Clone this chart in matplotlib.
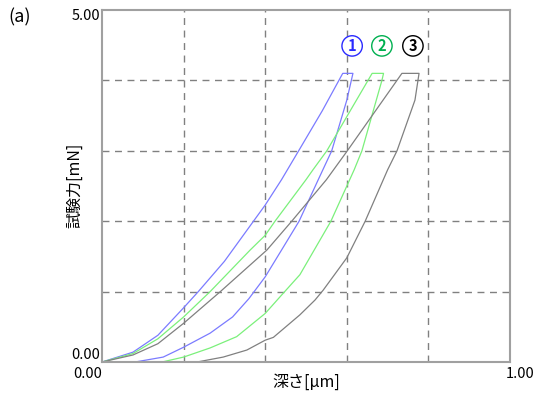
import numpy as np
import matplotlib
matplotlib.use("Agg")
from matplotlib import pyplot as plt

plt.rcParams['font.family'] = ['Noto Sans CJK JP', 'DejaVu Sans']

# 押し込み深さ [μm] と試験力 [mN]（負荷 -> 保持 -> 除荷）
depth1 = [0.0, 0.076, 0.137, 0.2, 0.236, 0.3, 0.32, 0.4, 0.44, 0.485, 0.54, 0.59,
          0.615, 0.60, 0.563, 0.53, 0.483, 0.44, 0.40, 0.36, 0.32, 0.265, 0.2, 0.15, 0.081]
force1 = [0.0, 0.14, 0.38, 0.77, 1.0, 1.43, 1.59, 2.23, 2.59, 3.03, 3.57, 4.1,
          4.1, 3.72, 3.0, 2.59, 2.0, 1.59, 1.21, 0.9, 0.64, 0.41, 0.21, 0.07, 0.0]

depth2 = [0.0, 0.076, 0.137, 0.2, 0.265, 0.363, 0.4, 0.424, 0.5, 0.517, 0.551, 0.662,
          0.69, 0.686, 0.637, 0.618, 0.561, 0.485, 0.44, 0.4, 0.33, 0.265, 0.2, 0.147]
force2 = [0.0, 0.12, 0.33, 0.64, 1.0, 1.59, 1.8, 2.0, 2.59, 2.73, 3.0, 4.1,
          4.1, 4.0, 3.0, 2.73, 2.0, 1.24, 0.95, 0.69, 0.36, 0.2, 0.07, 0.0]

depth3 = [0.0, 0.076, 0.137, 0.2, 0.29, 0.404, 0.465, 0.55, 0.60, 0.735,
          0.777, 0.767, 0.723, 0.70, 0.645, 0.60, 0.542, 0.522, 0.485, 0.42, 0.40, 0.355, 0.297, 0.233]
force3 = [0.0, 0.10, 0.26, 0.55, 1.0, 1.59, 2.0, 2.59, 2.99, 4.1,
          4.1, 3.72, 3.0, 2.73, 2.0, 1.48, 1.02, 0.88, 0.67, 0.35, 0.31, 0.17, 0.07, 0.0]

labels = ['1', '2', '3']
label_x = [0.613, 0.686, 0.762]
line_colors = ['#7b7bff', '#7bf07b', '#808080']
text_colors = ['#2a2aff', '#00b050', '#000000']

fig = plt.figure(figsize=(5.38, 3.94), dpi=100)
ax = fig.add_axes([0.1896, 0.0812, 0.7584, 0.8934])

for d, f, c in zip([depth1, depth2, depth3], [force1, force2, force3], line_colors):
    ax.plot(d, f, color=c, lw=0.9)

for lab, lx, tc in zip(labels, label_x, text_colors):
    ax.text(lx, 4.49, lab, color=tc, fontsize=10.5, fontweight='bold', ha='center', va='center',
            bbox=dict(boxstyle='circle,pad=0.15', fc='white', ec=tc, lw=1.0))

ax.set_xlim(0, 1)
ax.set_ylim(0, 5)
ax.set_xticks([0.2, 0.4, 0.6, 0.8])
ax.set_yticks([1, 2, 3, 4])
ax.tick_params(length=0, labelbottom=False, labelleft=False)
ax.grid(True, color='#808080', ls=(0, (5, 4)), lw=1.0)
for s in ax.spines.values():
    s.set_color('#a0a0a0')
    s.set_linewidth(1.5)

# 目盛ラベル（両端のみ）
fig.text(0.186, 0.977, '5.00', ha='right', va='top', fontsize=10.5)
fig.text(0.186, 0.081, '0.00', ha='right', va='bottom', fontsize=10.5)
fig.text(0.189, 0.068, '0.00', ha='right', va='top', fontsize=10.5)
fig.text(0.993, 0.068, '1.00', ha='right', va='top', fontsize=10.5)

fig.text(0.569, 0.03, '深さ[μm]', ha='center', va='center', fontsize=11.5)
fig.text(0.139, 0.53, '試験力[mN]', ha='center', va='center', rotation=90, fontsize=11.5)
fig.text(0.015, 0.955, '(a)', ha='left', va='center', fontsize=13)

plt.savefig('out.png', dpi=100)
